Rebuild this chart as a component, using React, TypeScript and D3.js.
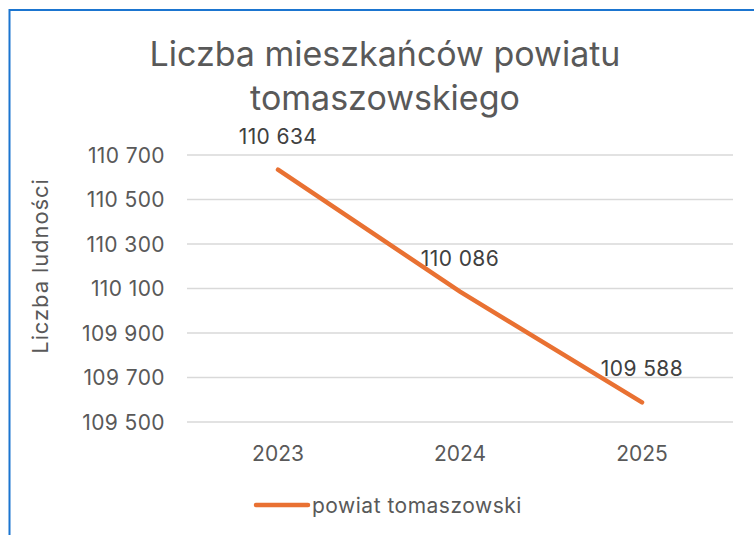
import React from "react";
import * as d3 from "d3";

const categories = ["2023", "2024", "2025"];
const values = [110634, 110086, 109588];
const yTicks = [109500, 109700, 109900, 110100, 110300, 110500, 110700];
const seriesName = "powiat tomaszowski";
const titleLines = ["Liczba mieszkańców powiatu", "tomaszowskiego"];
const yAxisTitle = "Liczba ludności";

const W = 754;
const H = 535;
const FONT = "Inter, 'Open Sans', sans-serif";
const TEXT = "#595959";
const ORANGE = "#E97132";

export default function App() {
  const x = d3.scaleBand<string>().domain(categories).range([187, 733]);
  const y = d3.scaleLinear().domain([109500, 110700]).range([422, 155]);
  const line = d3
    .line<number>()
    .x((_, i) => (x(categories[i]) as number) + x.bandwidth() / 2)
    .y((d) => y(d));
  const fmt = (v: number) => d3.format(",")(v).replace(/,/g, " ");

  return (
    <svg
      width={W}
      height={H}
      style={{ position: "absolute", left: 0, top: 0, background: "#fff" }}
      fontFamily={FONT}
    >
      <rect x={9.5} y={10} width={W + 10} height={H + 10} fill="#fff" stroke="#1B75D0" strokeWidth={2} />
      {titleLines.map((t, i) => (
        <text key={i} x={385} y={66 + i * 44} textAnchor="middle" fontSize={34} fill={TEXT}>
          {t}
        </text>
      ))}
      {yTicks.map((t) => (
        <g key={t}>
          <line x1={187} x2={733} y1={y(t)} y2={y(t)} stroke="#D9D9D9" strokeWidth={1.3} />
          <text x={165} y={y(t)} dy="0.36em" textAnchor="end" fontSize={21} letterSpacing={0.4} fill={TEXT}>
            {fmt(t)}
          </text>
        </g>
      ))}
      {categories.map((c) => (
        <text key={c} x={(x(c) as number) + x.bandwidth() / 2} y={453} dy="0.36em" textAnchor="middle" fontSize={21} fill={TEXT}>
          {c}
        </text>
      ))}
      <text
        transform={`translate(40,${266}) rotate(-90)`}
        textAnchor="middle"
        dy="0.36em"
        fontSize={22}
        letterSpacing={0.9}
        fill={TEXT}
      >
        {yAxisTitle}
      </text>
      <path d={line(values) || ""} fill="none" stroke={ORANGE} strokeWidth={4.5} strokeLinecap="round" />
      {values.map((v, i) => (
        <text
          key={i}
          x={(x(categories[i]) as number) + x.bandwidth() / 2}
          y={y(v) - 33.5}
          dy="0.36em"
          textAnchor="middle"
          fontSize={21}
          letterSpacing={0.4}
          fill="#404040"
        >
          {fmt(v)}
        </text>
      ))}
      <line x1={256} x2={308} y1={505} y2={505} stroke={ORANGE} strokeWidth={4.5} strokeLinecap="round" />
      <text x={312} y={505} dy="0.36em" fontSize={21} letterSpacing={0.5} fill={TEXT}>
        {seriesName}
      </text>
    </svg>
  );
}
